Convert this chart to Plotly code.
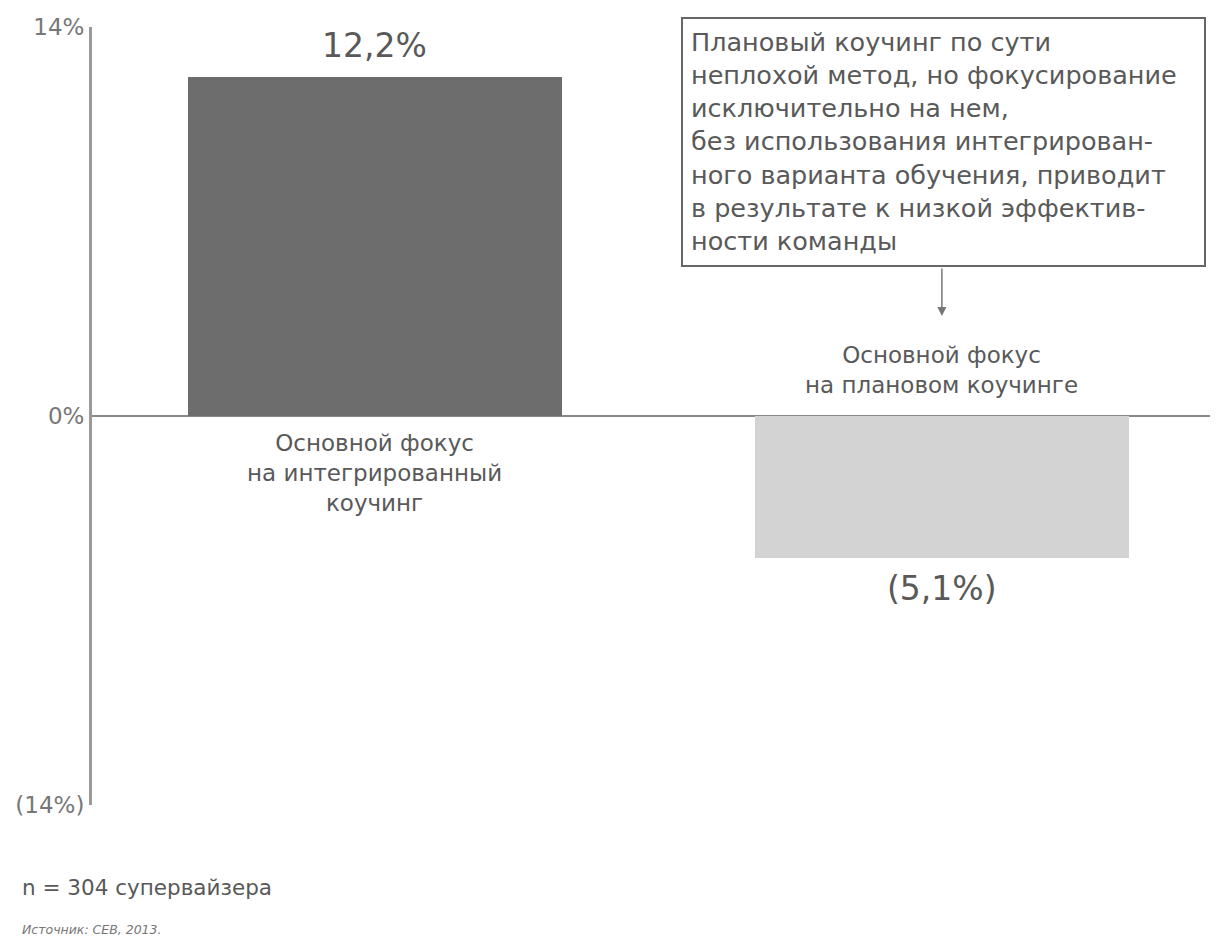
import plotly.graph_objects as go

categories = ["Основной фокус<br>на интегрированный<br>коучинг",
              "Основной фокус<br>на плановом коучинге"]
values = [12.2, -5.1]
value_labels = ["12,2%", "(5,1%)"]
bar_colors = ["#6d6d6d", "#d3d3d3"]
tick_vals = [-14, 0, 14]
tick_text = ["(14%)", "0%", "14%"]
callout = ("Плановый коучинг по сути<br>неплохой метод, но фокусирование<br>"
           "исключительно на нем,<br>без использования интегрирован-<br>"
           "ного варианта обучения, приводит<br>в результате к низкой эффектив-<br>"
           "ности команды")
note = "n = 304 супервайзера"
source = "Источник: CEB, 2013."

FONT = "DejaVu Sans"
TXT = "#595959"
xs = list(range(len(values)))

# page body has an 8px margin, so the figure is drawn 8px smaller and offset
L, T, PW, PH = 84, 19, 1126, 778

fig = go.Figure()
fig.add_trace(go.Bar(x=xs, y=values, width=0.66, marker=dict(color=bar_colors, line=dict(width=0)),
                     hoverinfo="skip", showlegend=False))

ann = []
for x, v, lab, cat in zip(xs, values, value_labels, categories):
    pos = v >= 0
    ann.append(dict(x=x, y=v, xref="x", yref="y", text=lab, showarrow=False,
                    yanchor="bottom" if pos else "top", yshift=10 if pos else -9,
                    font=dict(family=FONT, size=33, color=TXT)))
    ann.append(dict(x=x, y=0, xref="x", yref="y", text=cat, showarrow=False,
                    yanchor="top" if pos else "bottom", yshift=-12 if pos else 16,
                    font=dict(family=FONT, size=23, color=TXT)))

ann.append(dict(x=(681 - 92) / PW, y=1 + (27 - 17) / PH, xref="paper", yref="paper",
                xanchor="left", yanchor="top", text=callout, showarrow=False, align="left",
                valign="top", width=505, height=230, borderpad=8, bordercolor="#666",
                borderwidth=2, bgcolor="white",
                font=dict(family=FONT, size=25.5, color=TXT)))
ann.append(dict(x=1, y=1 - (316 - 27) / PH, xref="x", yref="paper", ax=0, ay=-49,
                text="", showarrow=True, arrowhead=2, arrowsize=1.2, arrowwidth=1.5,
                arrowcolor="#777", standoff=0))
ann.append(dict(x=0, y=0, xref="paper", yref="paper", text=note, showarrow=False,
                xanchor="left", yanchor="middle", xshift=-72, yshift=-82,
                font=dict(family=FONT, size=21.5, color=TXT)))
ann.append(dict(x=0, y=0, xref="paper", yref="paper", text="<i>" + source + "</i>", showarrow=False,
                xanchor="left", yanchor="middle", xshift=-72, yshift=-124,
                font=dict(family=FONT, size=12.5, color="#777")))

fig.update_layout(
    width=L + PW, height=T + PH + 135,
    margin=dict(l=L, r=0, t=T, b=135),
    paper_bgcolor="white", plot_bgcolor="white",
    bargap=0,
    annotations=ann,
    xaxis=dict(range=[-0.499, 1.487], showticklabels=False, showgrid=False, zeroline=False,
               showline=False, ticks="", automargin=False),
    yaxis=dict(range=[-14, 14], tickvals=tick_vals, ticktext=tick_text, showgrid=False,
               zeroline=True, zerolinecolor="#8a8a8a", zerolinewidth=2, automargin=False,
               showline=True, linecolor="#9a9a9a", linewidth=3, ticks="", ticklen=0,
               tickfont=dict(family=FONT, size=23, color="#777")),
)
fig.write_html("out.html")
